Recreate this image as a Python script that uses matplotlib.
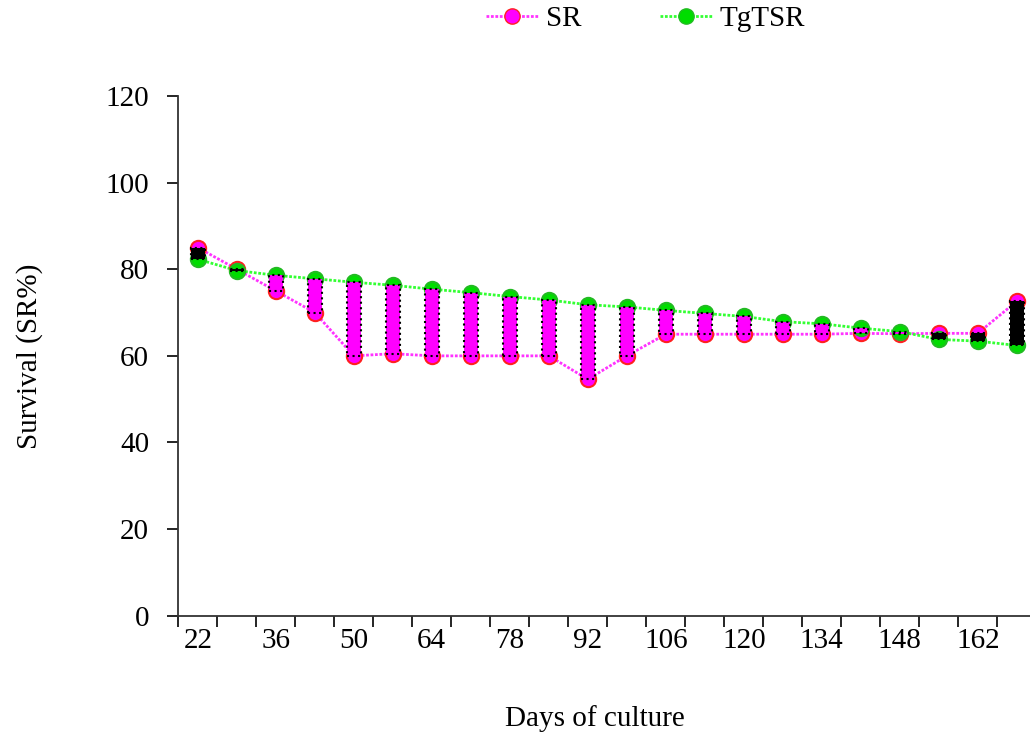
import matplotlib.pyplot as plt
import numpy as np

# days of culture and survival values
days = [22, 29, 36, 43, 50, 57, 64, 71, 78, 85, 92,
        99, 106, 113, 120, 127, 134, 141, 148, 155, 162, 169]
sr = [85, 80, 75, 70, 60, 60.5, 60, 60, 60, 60, 54.6,
      60, 65, 65, 65, 65, 65, 65.2, 65.1, 65.2, 65.2, 72.6]
tgtsr = [82.3, 79.7, 78.6, 77.8, 77.0, 76.3, 75.4, 74.6, 73.7, 72.9, 71.8,
         71.3, 70.5, 69.8, 69.1, 67.9, 67.4, 66.4, 65.6, 63.8, 63.4, 62.4]
tick_labels = [str(d) for d in days[::2]]

plt.rcParams['font.family'] = ['Liberation Serif', 'DejaVu Serif']
fs = 21

fig = plt.figure(figsize=(10.3, 7.43), dpi=100)
ax = fig.add_axes([0.1731, 0.1713, 0.833, 0.6995])

x = np.arange(len(days))

ax.plot(x, sr, color='#ff33ff', lw=2, linestyle=(0, (1, 0.6)), zorder=2)
ax.plot(x, tgtsr, color='#33ff33', lw=2, linestyle=(0, (1, 0.6)), zorder=2)
ax.plot(x, sr, linestyle='none', marker='o', ms=11, mfc='#ff00ff',
        mec='#ff2020', mew=1.5, zorder=3)
ax.plot(x, tgtsr, linestyle='none', marker='o', ms=11, mfc='#00dd00',
        mec='#22bb22', mew=1.5, zorder=3)

# up/down bars between the two series
for i in range(len(days)):
    lo = min(sr[i], tgtsr[i])
    hi = max(sr[i], tgtsr[i])
    if sr[i] >= tgtsr[i]:
        fc = 'black'
    else:
        fc = '#ff00ff'
    ax.bar(x[i], hi - lo, bottom=lo, width=0.37, color=fc,
           edgecolor='black', linestyle=':', linewidth=1.5, zorder=4)

ax.set_xlim(-0.5, len(days) - 0.5)
ax.set_ylim(0, 120)
ax.set_yticks(range(0, 121, 20))
ax.set_xticks(x[::2])
ax.set_xticklabels(tick_labels)
ax.set_xticks(np.arange(-0.5, len(days), 1), minor=True)
ax.tick_params(axis='x', which='major', length=0, pad=9, labelsize=fs)
ax.tick_params(axis='x', which='minor', length=8, width=1.2, direction='out')
ax.tick_params(axis='y', length=8, width=1.2, direction='out', pad=13, labelsize=fs)

ax.spines['top'].set_visible(False)
ax.spines['right'].set_visible(False)
ax.spines['left'].set_linewidth(1.3)
ax.spines['bottom'].set_linewidth(1.3)
ax.spines['left'].set_color('#333333')
ax.spines['bottom'].set_color('#333333')

ax.set_xlabel('Days of culture', fontsize=fs)
ax.set_ylabel('Survival (SR%)', fontsize=fs)
ax.xaxis.set_label_coords(0.486, -0.197)
ax.xaxis.label.set_va('center')
ax.yaxis.set_label_coords(-0.173, 0.5)
ax.yaxis.label.set_va('center')

h1, = ax.plot([], [], color='#ff33ff', lw=2, linestyle=(0, (1, 0.6)),
              marker='o', ms=11, mfc='#ff00ff', mec='#ff2020')
h2, = ax.plot([], [], color='#33ff33', lw=2, linestyle=(0, (1, 0.6)),
              marker='o', ms=11, mfc='#00dd00', mec='#22bb22')
fig.legend([h1, h2], ['SR', 'TgTSR'], loc='center',
           bbox_to_anchor=(0.627, 0.975), ncol=2, frameon=False,
           fontsize=fs, handlelength=1.8, columnspacing=2.7,
           handletextpad=0.25, borderpad=0)

fig.savefig('out.png', dpi=100)
